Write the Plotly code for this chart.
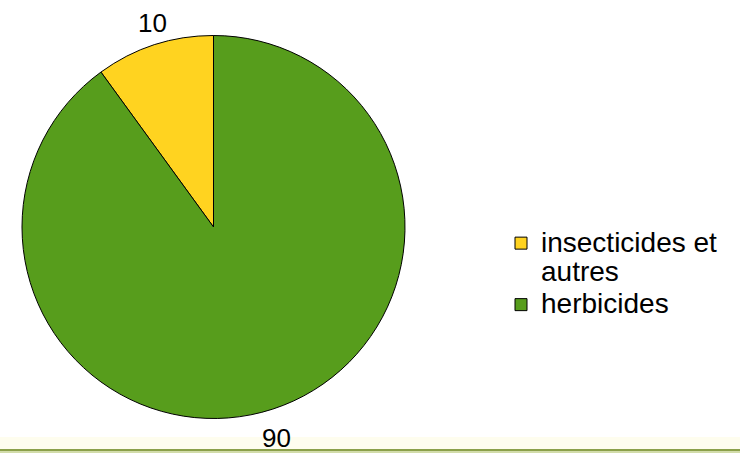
import math
import plotly.graph_objects as go

W, H = 740, 453

# Share of pesticide use by category
labels = ["insecticides et<br>autres", "herbicides"]
values = [10, 90]
colors = ["#ffd320", "#579d1c"]

FONT = "Liberation Sans, Arial, sans-serif"
TEXT_SIZE = 28      # glyph size of legend labels
LEGEND_SIZE = 22.5  # sets the legend line pitch

# Pie geometry in pixels
cx, cy, R = 213.5, 227.0, 191.5

total = sum(values)
# First slice ends at 12 o'clock, the rest run on clockwise from there
first_angle = values[0] / total * 360


def px_x(x):
    return x / W


def px_y(y):
    return 1 - y / H


def big(label):
    return "<br>".join(
        f'<span style="font-size:{TEXT_SIZE}px">{part}</span>' for part in label.split("<br>")
    )


fig = go.Figure(
    go.Pie(
        labels=[big(l) for l in labels],
        values=values,
        sort=False,
        direction="clockwise",
        rotation=-first_angle,
        marker=dict(colors=colors, line=dict(color="#000000", width=1)),
        textinfo="none",
        hoverinfo="value",
        domain=dict(x=[px_x(cx - R), px_x(cx + R)], y=[px_y(cy + R), px_y(cy - R)]),
    )
)

# Value labels just outside each slice at its mid angle (clockwise from 12 o'clock)
start = -first_angle
annotations = []
for v in values:
    mid = start + v / total * 360 / 2
    start += v / total * 360
    a = math.radians(mid)
    top_half = math.cos(a) > 0
    rr = R + (5 if top_half else 12)
    x = cx + math.sin(a) * rr
    y = cy - math.cos(a) * rr
    annotations.append(
        dict(
            x=px_x(x), y=px_y(y), xref="paper", yref="paper",
            text=str(v), showarrow=False,
            xanchor="center",
            yanchor="bottom" if top_half else "top",
            font=dict(family=FONT, size=26, color="#000000"),
        )
    )

shapes = [
    dict(type="rect", xref="paper", yref="paper", x0=0, x1=1,
         y0=px_y(449), y1=px_y(437), fillcolor="#fefdee", line=dict(width=0), layer="below"),
    dict(type="rect", xref="paper", yref="paper", x0=0, x1=1,
         y0=px_y(451), y1=px_y(449), fillcolor="#8ba04a", line=dict(width=0)),
    dict(type="rect", xref="paper", yref="paper", x0=0, x1=1,
         y0=0, y1=px_y(451), fillcolor="#d2dcaa", line=dict(width=0)),
]

fig.update_layout(
    width=W, height=H,
    margin=dict(l=0, r=0, t=0, b=0),
    paper_bgcolor="#ffffff",
    plot_bgcolor="#ffffff",
    showlegend=True,
    legend=dict(
        x=px_x(501), y=px_y(222), xanchor="left", yanchor="top",
        font=dict(family=FONT, size=LEGEND_SIZE, color="#000000"),
        tracegroupgap=0, itemwidth=30, valign="top",
    ),
    annotations=annotations,
    shapes=shapes,
)

fig.write_html("out.html")
